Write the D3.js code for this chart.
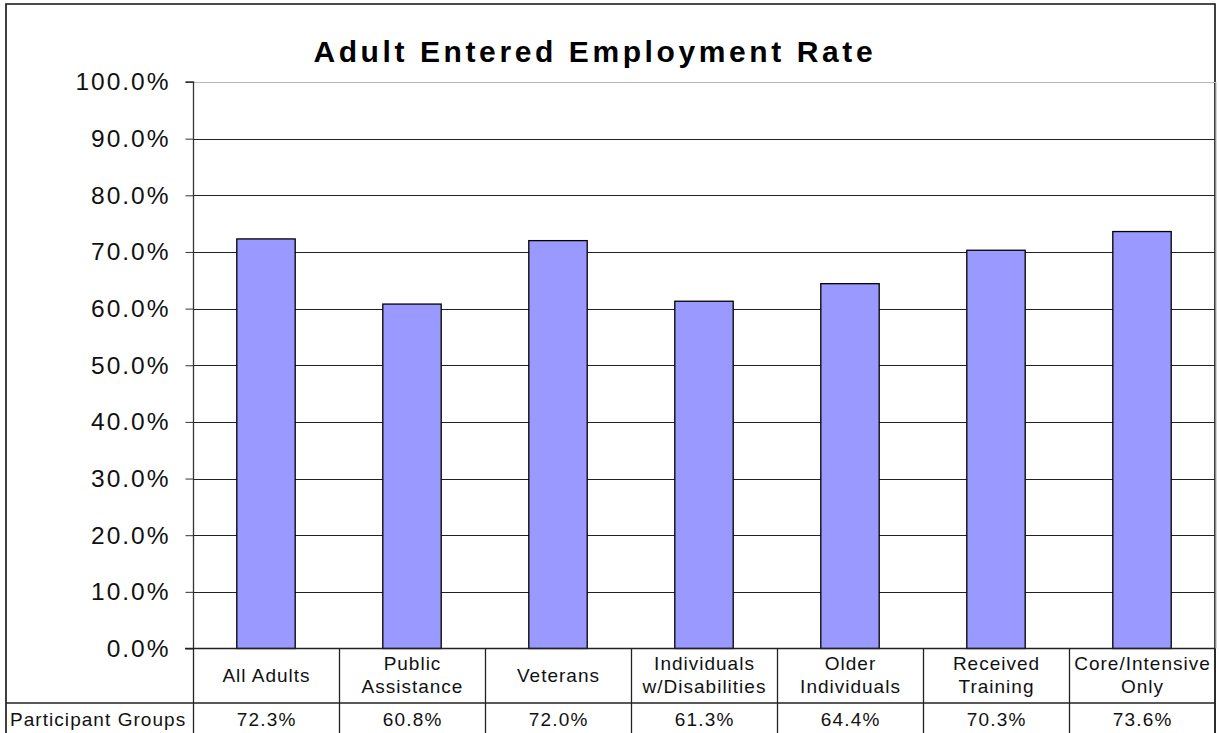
<!DOCTYPE html>
<html>
<head>
<meta charset="utf-8">
<script src="https://cdn.jsdelivr.net/npm/d3@7"></script>
<style>
  html, body { margin: 0; padding: 0; background: #fff; }
  svg { display: block; font-family: "Liberation Sans", Arial, sans-serif; }
</style>
</head>
<body>
<svg id="chart" width="1219" height="733"></svg>
<script>
// Participant groups and their entered employment rates (%)
const categories = [
  ["All Adults"],
  ["Public", "Assistance"],
  ["Veterans"],
  ["Individuals", "w/Disabilities"],
  ["Older", "Individuals"],
  ["Received", "Training"],
  ["Core/Intensive", "Only"]
];
const rates = [72.3, 60.8, 72.0, 61.3, 64.4, 70.3, 73.6];
const yTicks = [0, 10, 20, 30, 40, 50, 60, 70, 80, 90, 100];
const titleText = "Adult Entered Employment Rate";
const rowHeader = "Participant Groups";

const svg = d3.select("#chart");
const plot = { left: 193, right: 1215, top: 82, bottom: 648.5 };
const frame = { left: 6, top: 4, right: 1215 };
const rowSplit = 703;

const x = d3.scaleBand()
  .domain(d3.range(categories.length))
  .range([plot.left, plot.right])
  .paddingInner(0).paddingOuter(0);
const barW = x.bandwidth() / 2.5;

const y = d3.scaleLinear().domain([0, 100]).range([plot.bottom, plot.top]);

// Outer chart frame
svg.append("path")
  .attr("d", `M${frame.left},740 V${frame.top} H${frame.right} V740`)
  .attr("fill", "none").attr("stroke", "#111").attr("stroke-width", 1.6);

// Gridlines
svg.append("g").selectAll("line")
  .data(yTicks.filter(t => t > 0 && t < 100))
  .join("line")
  .attr("x1", plot.left).attr("x2", plot.right)
  .attr("y1", d => Math.round(y(d)) + 0.5).attr("y2", d => Math.round(y(d)) + 0.5)
  .attr("stroke", "#222").attr("stroke-width", 1);

// Plot area top / right edge
svg.append("path")
  .attr("d", `M${plot.left},${Math.round(y(100)) + 0.5} H${plot.right + 1} V${plot.bottom}`)
  .attr("fill", "none").attr("stroke", "#b8b8b8").attr("stroke-width", 1.2);

// Bars
svg.append("g").selectAll("rect")
  .data(rates)
  .join("rect")
  .attr("x", (d, i) => x(i) + (x.bandwidth() - barW) / 2)
  .attr("width", barW)
  .attr("y", d => y(d))
  .attr("height", d => y(0) - y(d))
  .attr("fill", "#9999FF")
  .attr("stroke", "#000").attr("stroke-width", 1.3);

// Y axis
const yAxis = d3.axisLeft(y)
  .tickValues(yTicks)
  .tickSize(8)
  .tickPadding(15)
  .tickFormat(d => d3.format(".1f")(d) + "%");
const ya = svg.append("g")
  .attr("transform", `translate(${plot.left + 0.5},0)`)
  .call(yAxis);
ya.select(".domain").attr("stroke", "#333").attr("stroke-width", 1.3)
  .attr("d", `M-8,${y(100)}H0V${y(0)}`);
ya.selectAll(".tick line").attr("stroke", "#333");
ya.selectAll(".tick text")
  .attr("font-size", 24.5).attr("fill", "#111")
  .attr("letter-spacing", "2px")
  .attr("font-family", "'Liberation Sans', Arial, sans-serif");

// Data table below the plot
const table = svg.append("g").attr("stroke", "#222").attr("stroke-width", 1.3);
table.append("line")
  .attr("x1", plot.left - 8).attr("x2", plot.right)
  .attr("y1", plot.bottom).attr("y2", plot.bottom);
table.append("line")
  .attr("x1", frame.left).attr("x2", plot.right)
  .attr("y1", rowSplit).attr("y2", rowSplit);
table.selectAll("line.col")
  .data(d3.range(categories.length + 1))
  .join("line").attr("class", "col")
  .attr("x1", i => i === categories.length ? plot.right : x(i) + 0.5)
  .attr("x2", i => i === categories.length ? plot.right : x(i) + 0.5)
  .attr("y1", plot.bottom).attr("y2", 740);

// Category labels (row 1)
const labelSpacing = 1;
const labels = svg.append("g")
  .attr("font-size", 19).attr("fill", "#111")
  .attr("letter-spacing", labelSpacing + "px")
  .attr("text-anchor", "middle");
categories.forEach((lines, i) => {
  const cx = x(i) + x.bandwidth() / 2 + labelSpacing / 2;
  const t = labels.append("text").attr("x", cx);
  if (lines.length === 1) {
    t.append("tspan").attr("x", cx).attr("y", 682).text(lines[0]);
  } else {
    t.append("tspan").attr("x", cx).attr("y", 670).text(lines[0]);
    t.append("tspan").attr("x", cx).attr("y", 693).text(lines[1]);
  }
});

// Values row (row 2)
const values = svg.append("g")
  .attr("font-size", 19).attr("fill", "#111")
  .attr("letter-spacing", "1.2px")
  .attr("text-anchor", "middle");
values.selectAll("text")
  .data(rates)
  .join("text")
  .attr("x", (d, i) => x(i) + x.bandwidth() / 2 + 0.6)
  .attr("y", 726)
  .text(d => d3.format(".1f")(d) + "%");
values.append("text")
  .attr("x", 10)
  .attr("y", 726)
  .attr("text-anchor", "start")
  .attr("letter-spacing", "1.05px")
  .text(rowHeader);

// Title
svg.append("text")
  .attr("x", 593 + 1.8).attr("y", 62)
  .attr("text-anchor", "middle")
  .attr("font-size", 30).attr("font-weight", "bold")
  .attr("letter-spacing", "3.6px")
  .attr("fill", "#000")
  .text(titleText);
</script>
</body>
</html>
